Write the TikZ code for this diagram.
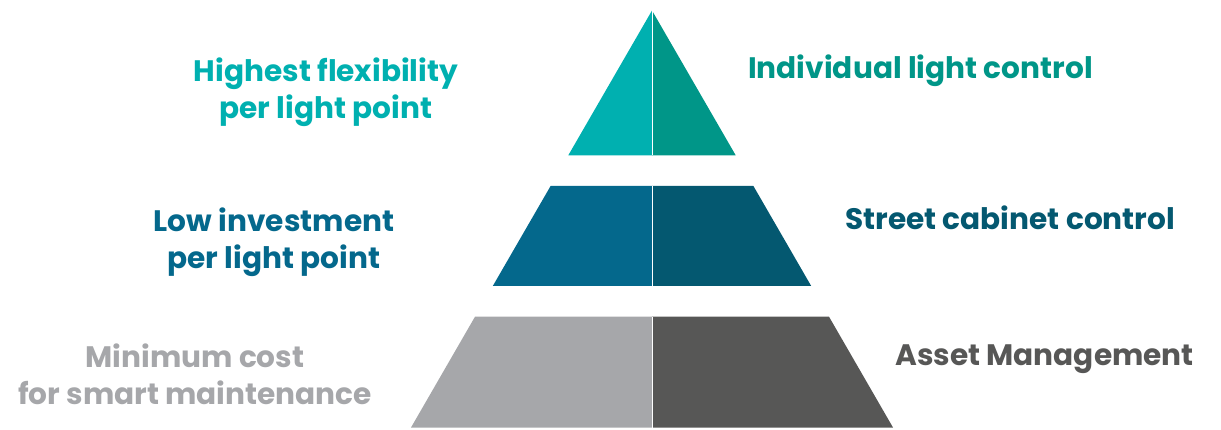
\documentclass[tikz,border=0pt]{standalone}
\usepackage{fontspec}
\setmainfont{Poppins}
\definecolor{tealA}{RGB}{0,176,176}
\definecolor{tealB}{RGB}{0,150,136}
\definecolor{blueA}{RGB}{4,104,140}
\definecolor{blueB}{RGB}{4,88,112}
\definecolor{greyA}{RGB}{166,167,170}
\definecolor{greyB}{RGB}{87,87,86}
\tikzset{
  lbl/.style={font=\fontsize{29.6}{37.5}\selectfont\bfseries, inner sep=0pt, align=center, anchor=base},
  rlbl/.style={font=\fontsize{29.6}{37.5}\selectfont\bfseries, inner sep=0pt, anchor=base west},
  gap/.style={draw=white, line width=1.5pt}
}
\begin{document}
\begin{tikzpicture}[x=1pt,y=-1pt]
\useasboundingbox (0,0) rectangle (1221,430);
% top layer
\fill[tealA] (652,10.5) -- (568.3,155.3) -- (652,155.3) -- cycle;
\fill[tealB] (652,10.5) -- (652,155.3) -- (735.7,155.3) -- cycle;
% middle layer
\fill[blueA] (550.6,186) -- (492.8,286) -- (652,286) -- (652,186) -- cycle;
\fill[blueB] (652,186) -- (652,286) -- (811.2,286) -- (753.4,186) -- cycle;
% bottom layer
\fill[greyA] (475,316.7) -- (410.9,427.7) -- (652,427.7) -- (652,316.7) -- cycle;
\fill[greyB] (652,316.7) -- (652,427.7) -- (893.1,427.7) -- (829,316.7) -- cycle;
% central gaps
\draw[gap] (652.3,10.5) -- (652.3,155.3);
\draw[gap] (652.3,186) -- (652.3,286);
\draw[gap] (652.3,316.7) -- (652.3,427.7);
% labels left (anchor base = last line)
\node[lbl, text=tealA] (l1) at (326,119) {Highest flexibility\\per light point};
\node[lbl, text=blueA] (l2) at (274,269) {Low investment\\per light point};
\node[lbl, text=greyA] (l3) at (195,404.5) {Minimum cost\\for smart maintenance};
% labels right
\node[rlbl, text=tealB] (r1) at (748,79) {Individual light control};
\node[rlbl, text=blueB] (r2) at (845,230) {Street cabinet control};
\node[rlbl, text=greyB] (r3) at (895,365) {Asset Management};
\end{tikzpicture}
\end{document}
